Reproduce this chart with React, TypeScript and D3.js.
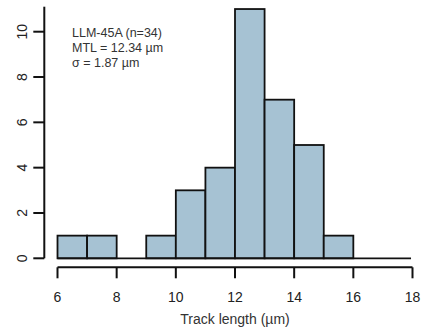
import React from "react";
import * as d3 from "d3";

const binStarts = [6, 7, 8, 9, 10, 11, 12, 13, 14, 15];
const counts = [1, 1, 0, 1, 3, 4, 11, 7, 5, 1];
const xTicks = [6, 8, 10, 12, 14, 16, 18];
const yTicks = [0, 2, 4, 6, 8, 10];
const annotation = ["LLM-45A (n=34)", "MTL = 12.34 µm", "σ = 1.87 µm"];
const xTitle = "Track length (µm)";

const W = 423;
const H = 333;
const FONT = "'Liberation Sans', Arial, Helvetica, sans-serif";

export default function App() {
  const x = d3.scaleLinear().domain([6, 18]).range([57.5, 412.5]);
  const y = d3.scaleLinear().domain([0, 10]).range([258.3, 31.7]);
  const axisY = 267.3;
  const yAxisX = 44.3;

  return (
    <svg
      width={W}
      height={H}
      style={{ position: "absolute", left: 0, top: 0, background: "#fff" }}
      fontFamily={FONT}
    >
      {/* bars */}
      {binStarts.map((b, i) =>
        counts[i] > 0 ? (
          <rect
            key={i}
            x={x(b)}
            y={y(counts[i])}
            width={x(b + 1) - x(b)}
            height={y(0) - y(counts[i])}
            fill="#a6c2d3"
            stroke="#111"
            strokeWidth={1.8}
          />
        ) : null
      )}
      {/* baseline */}
      <line x1={x(6)} x2={x(17.95)} y1={y(0)} y2={y(0)} stroke="#111" strokeWidth={1.8} />

      {/* x axis */}
      <line x1={x(6)} x2={x(18)} y1={axisY} y2={axisY} stroke="#111" strokeWidth={2} />
      {xTicks.map((t) => (
        <g key={t}>
          <line x1={x(t)} x2={x(t)} y1={axisY} y2={axisY + 11} stroke="#111" strokeWidth={2} />
          <text x={x(t)} y={axisY + 34.5} textAnchor="middle" fontSize={14} fill="#222">
            {t}
          </text>
        </g>
      ))}
      <text x={x(12)} y={324} textAnchor="middle" fontSize={14} fill="#333">
        {xTitle}
      </text>

      {/* y axis */}
      <line x1={yAxisX} x2={yAxisX} y1={y(0)} y2={6.7} stroke="#111" strokeWidth={2} />
      {yTicks.map((t) => (
        <g key={t}>
          <line x1={yAxisX - 11} x2={yAxisX} y1={y(t)} y2={y(t)} stroke="#111" strokeWidth={2} />
          <text
            transform={`translate(${27},${y(t)}) rotate(-90)`}
            textAnchor="middle"
            fontSize={14}
            fill="#222"
          >
            {t}
          </text>
        </g>
      ))}

      {/* annotation */}
      {annotation.map((s, i) => (
        <text key={i} x={72} y={37 + i * 15} fontSize={12.5} fill="#333">
          {s}
        </text>
      ))}
    </svg>
  );
}
